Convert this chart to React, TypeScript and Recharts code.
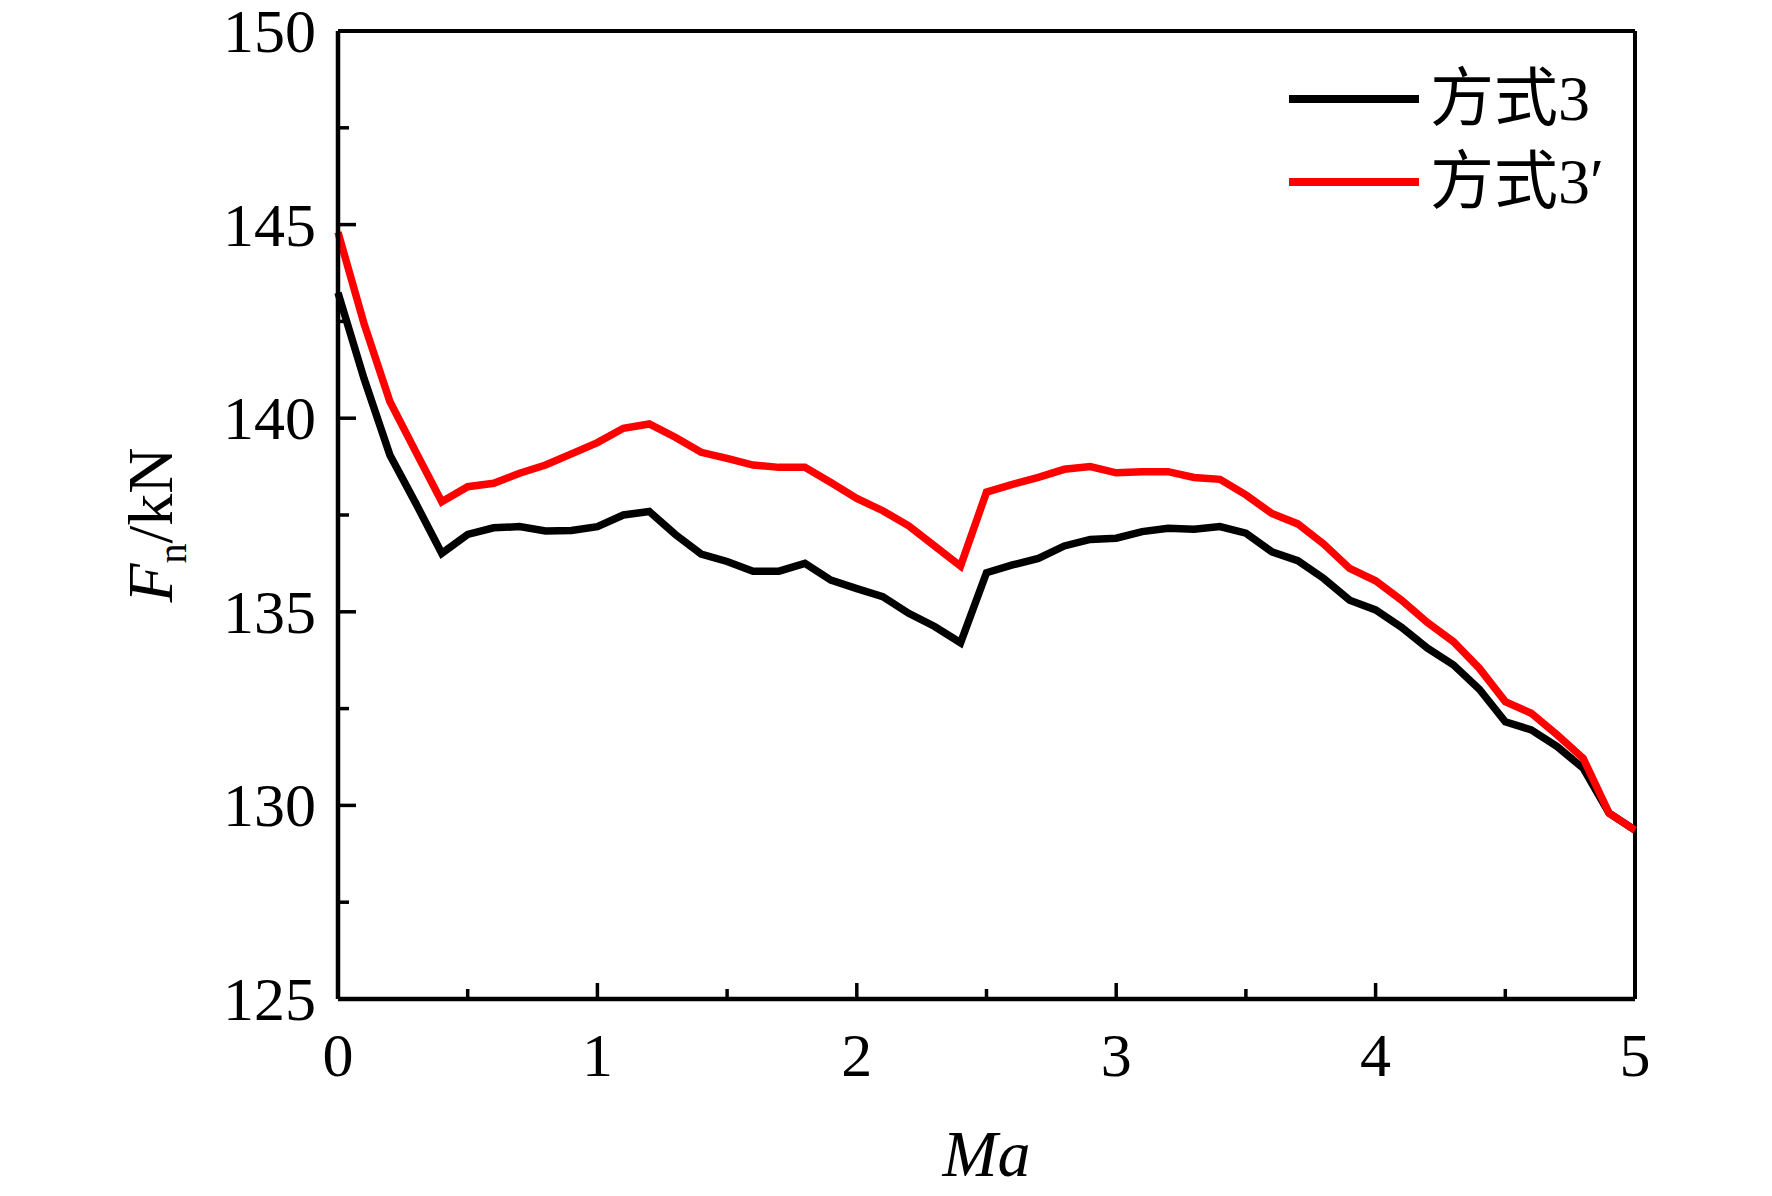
import { LineChart, Line, XAxis, YAxis, Legend, ReferenceLine } from 'recharts';

const ma = [
  0, 0.1, 0.2, 0.3, 0.4, 0.5, 0.6, 0.7, 0.8, 0.9,
  1, 1.1, 1.2, 1.3, 1.4, 1.5, 1.6, 1.7, 1.8, 1.9,
  2, 2.1, 2.2, 2.3, 2.4, 2.5, 2.6, 2.7, 2.8, 2.9,
  3, 3.1, 3.2, 3.3, 3.4, 3.5, 3.6, 3.7, 3.8, 3.9,
  4, 4.1, 4.2, 4.3, 4.4, 4.5, 4.6, 4.7, 4.8, 4.9, 5,
];

// 方式3
const fan3 = [
  143.24, 141.03, 139.05, 137.8, 136.51, 137.0, 137.17, 137.2, 137.09, 137.1,
  137.2, 137.5, 137.59, 137.0, 136.49, 136.3, 136.05, 136.05, 136.25, 135.82,
  135.6, 135.39, 134.96, 134.62, 134.2, 136.01, 136.21, 136.38, 136.7, 136.87,
  136.9, 137.07, 137.16, 137.13, 137.2, 137.03, 136.55, 136.32, 135.86, 135.3,
  135.05, 134.6, 134.06, 133.63, 133.0, 132.16, 131.95, 131.52, 130.96, 129.8, 129.36,
];

// 方式3′
const fan3p = [
  144.8, 142.45, 140.43, 139.13, 137.84, 138.23, 138.32, 138.58, 138.79, 139.08,
  139.37, 139.74, 139.85, 139.51, 139.12, 138.96, 138.79, 138.73, 138.73, 138.34,
  137.93, 137.61, 137.22, 136.7, 136.18, 138.09, 138.29, 138.47, 138.68, 138.75,
  138.59, 138.62, 138.62, 138.47, 138.42, 138.02, 137.54, 137.27, 136.75, 136.12,
  135.8, 135.3, 134.72, 134.23, 133.54, 132.68, 132.38, 131.82, 131.22, 129.8, 129.36,
];

const xTicks = [0, 0.5, 1, 1.5, 2, 2.5, 3, 3.5, 4, 4.5, 5];
const yTicks = [125, 127.5, 130, 132.5, 135, 137.5, 140, 142.5, 145, 147.5, 150];

const data = ma.map((m, i) => ({ ma: m, a: fan3[i], b: fan3p[i] }));

const SERIF = "'Liberation Serif', 'Times New Roman', serif";
const LEGEND_FONT = "'Liberation Serif', 'Noto Sans CJK SC', serif";

const XTick = ({ x, y, payload }: any) => {
  const major = Number.isInteger(payload.value);
  return (
    <g>
      <line x1={x} x2={x} y1={y} y2={y - (major ? 16 : 10)} stroke="#000" strokeWidth={3.5} />
      {major && (
        <text x={x} y={y + 77} textAnchor="middle" fontSize={62} fontFamily={SERIF} fill="#000">
          {payload.value}
        </text>
      )}
    </g>
  );
};

const YTick = ({ x, y, payload }: any) => {
  const major = payload.value % 5 === 0;
  return (
    <g>
      <line x1={x} x2={x + (major ? 18 : 11)} y1={y} y2={y} stroke="#000" strokeWidth={3.5} />
      {major && (
        <text x={x - 22} y={y} dy={21} textAnchor="end" fontSize={62} fontFamily={SERIF} fill="#000">
          {payload.value}
        </text>
      )}
    </g>
  );
};

const renderLegend = ({ payload }: any) => (
  <div>
    {payload.map((entry: any) => (
      <div key={entry.value} style={{ display: 'flex', alignItems: 'center', height: 83 }}>
        <svg width={130} height={10}>
          <line x1={0} x2={130} y1={5} y2={5} stroke={entry.color} strokeWidth={8} />
        </svg>
        <span style={{ marginLeft: 11, fontSize: 64, lineHeight: 1, fontFamily: LEGEND_FONT, color: '#000' }}>
          {entry.value}
        </span>
      </div>
    ))}
  </div>
);

export default function App() {
  return (
    <div style={{ position: 'absolute', left: 0, top: 0, width: 1772, height: 1196, background: '#fff' }}>
      <LineChart width={1772} height={1196} data={data} margin={{ top: 31, right: 137, left: 138, bottom: 47 }}>
        <XAxis
          dataKey="ma"
          type="number"
          domain={[0, 5]}
          ticks={xTicks}
          interval={0}
          height={150}
          tickSize={0}
          tickMargin={0}
          tickLine={false}
          tick={<XTick />}
          axisLine={{ stroke: '#000', strokeWidth: 4.5 }}
          label={({ viewBox }: any) => (
            <text
              x={viewBox.x + viewBox.width / 2}
              y={viewBox.y + 177}
              textAnchor="middle"
              fontSize={66}
              fontStyle="italic"
              fontFamily={SERIF}
              fill="#000"
            >
              Ma
            </text>
          )}
        />
        <YAxis
          type="number"
          domain={[125, 150]}
          ticks={yTicks}
          interval={0}
          width={200}
          tickSize={0}
          tickMargin={0}
          tickLine={false}
          tick={<YTick />}
          axisLine={{ stroke: '#000', strokeWidth: 4.5 }}
          label={({ viewBox }: any) => {
            const cx = viewBox.x + 34;
            const cy = viewBox.y + 494;
            return (
              <text
                x={cx}
                y={cy}
                transform={`rotate(-90 ${cx} ${cy})`}
                textAnchor="middle"
                fontSize={64}
                fontFamily={SERIF}
                fill="#000"
              >
                <tspan fontStyle="italic">F</tspan>
                <tspan fontSize={40} dy={14}>n</tspan>
                <tspan dy={-14}>/kN</tspan>
              </text>
            );
          }}
        />
        {/* frame: top and right edges */}
        <ReferenceLine y={150} stroke="#000" strokeWidth={4} />
        <ReferenceLine x={5} stroke="#000" strokeWidth={4} />
        <Legend
          content={renderLegend}
          layout="horizontal"
          verticalAlign="middle"
          align="center"
          wrapperStyle={{ position: 'absolute', top: 57, left: 1289, width: 420 }}
        />
        <Line
          type="linear"
          dataKey="a"
          name="方式3"
          stroke="#000000"
          strokeWidth={7.5}
          dot={false}
          isAnimationActive={false}
        />
        <Line
          type="linear"
          dataKey="b"
          name="方式3′"
          stroke="#ff0000"
          strokeWidth={7.5}
          dot={false}
          isAnimationActive={false}
        />
      </LineChart>
    </div>
  );
}
